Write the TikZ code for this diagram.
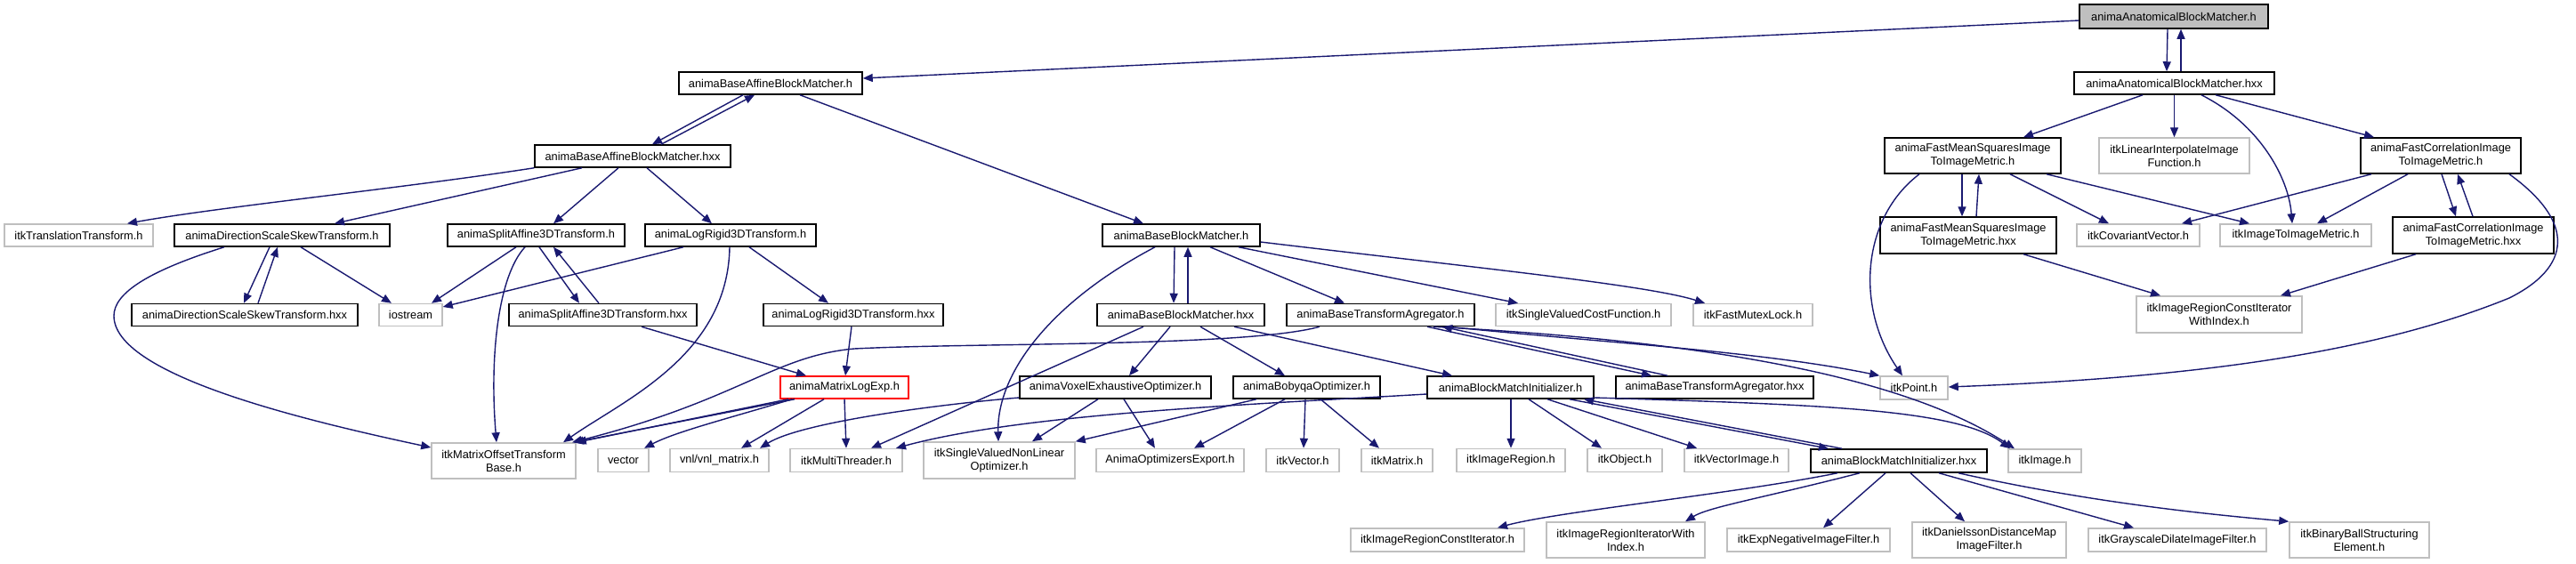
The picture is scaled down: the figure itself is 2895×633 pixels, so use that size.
\documentclass[tikz,border=0pt]{standalone}
\usepackage{fontspec}
\setmainfont{Liberation Sans}
\usetikzlibrary{arrows.meta,calc}
\definecolor{mbl}{HTML}{191970}
\definecolor{extgray}{HTML}{BFBFBF}
\begin{document}
\begin{tikzpicture}[x=1pt,y=-1pt,
  box/.style={draw, line width=1.5pt, inner sep=0pt, align=center, font=\fontsize{12.8}{15}\selectfont},
  doc/.style={box, draw=black},
  ext/.style={box, draw=extgray},
  sz/.style 2 args={minimum width=#1pt, minimum height=#2pt},
  conn/.style={draw=mbl, line width=1.4pt, -{Triangle[length=11pt,width=9pt]}}
]
\useasboundingbox (0,0) rectangle (2895,633);
% row 0
\node[doc, fill=extgray, sz={212}{27}] (A) at (2443,18.5) {animaAnatomicalBlockMatcher.h};
% row 1
\node[doc, sz={225}{25}] (Ahxx) at (2443.5,93.5) {animaAnatomicalBlockMatcher.hxx};
\node[doc, sz={206}{25}] (BAh) at (866,93.5) {animaBaseAffineBlockMatcher.h};
% row 2
\node[doc, sz={220}{25}] (BAhxx) at (711,175.5) {animaBaseAffineBlockMatcher.hxx};
\node[doc, sz={198}{40}] (FMSh) at (2217,175) {animaFastMeanSquaresImage\\ToImageMetric.h};
\node[ext, sz={169}{40}] (itkLII) at (2443.5,175) {itkLinearInterpolateImage\\Function.h};
\node[doc, sz={180}{40}] (FCh) at (2743,175) {animaFastCorrelationImage\\ToImageMetric.h};
% row 3
\node[ext, sz={167}{25}] (itkTT) at (88.5,264.5) {itkTranslationTransform.h};
\node[doc, sz={242}{25}] (DSSh) at (317,264.5) {animaDirectionScaleSkewTransform.h};
\node[doc, sz={199}{25}] (SAh) at (602.5,264.5) {animaSplitAffine3DTransform.h};
\node[doc, sz={192}{25}] (LRh) at (821,264.5) {animaLogRigid3DTransform.h};
\node[doc, sz={177}{25}] (BBh) at (1327.5,264.5) {animaBaseBlockMatcher.h};
\node[doc, sz={198}{41}] (FMShxx) at (2212,264.5) {animaFastMeanSquaresImage\\ToImageMetric.hxx};
\node[ext, sz={138}{25}] (itkCV) at (2403,264.5) {itkCovariantVector.h};
\node[ext, sz={170}{25}] (itkITIM) at (2580,264.5) {itkImageToImageMetric.h};
\node[doc, sz={181}{41}] (FChxx) at (2779.5,264.5) {animaFastCorrelationImage\\ToImageMetric.hxx};
% row 4
\node[ext, sz={186}{41}] (itkIRCIWI) at (2494,353.5) {itkImageRegionConstIterator\\WithIndex.h};
\node[doc, sz={254}{25}] (DSShxx) at (275,354) {animaDirectionScaleSkewTransform.hxx};
\node[ext, sz={71}{25}] (iostream) at (461.5,354) {iostream};
\node[doc, sz={211}{25}] (SAhxx) at (677.5,354) {animaSplitAffine3DTransform.hxx};
\node[doc, sz={202}{25}] (LRhxx) at (959,354) {animaLogRigid3DTransform.hxx};
\node[doc, sz={188}{25}] (BBhxx) at (1327,354) {animaBaseBlockMatcher.hxx};
\node[doc, sz={211}{25}] (BTAh) at (1551.5,354) {animaBaseTransformAgregator.h};
\node[ext, sz={197}{25}] (itkSVCF) at (1779.5,354) {itkSingleValuedCostFunction.h};
\node[ext, sz={134}{25}] (itkFML) at (1970,354) {itkFastMutexLock.h};
% row 5
\node[box, draw=red, sz={144}{25}] (MLE) at (949,435.5) {animaMatrixLogExp.h};
\node[doc, sz={215}{25}] (VEO) at (1253.5,435.5) {animaVoxelExhaustiveOptimizer.h};
\node[doc, sz={165}{25}] (BO) at (1468.5,435.5) {animaBobyqaOptimizer.h};
\node[doc, sz={187}{25}] (BMIh) at (1697.5,435.5) {animaBlockMatchInitializer.h};
\node[doc, sz={222}{25}] (BTAhxx) at (1927,435.5) {animaBaseTransformAgregator.hxx};
\node[ext, sz={76}{26}] (itkPoint) at (2151,436) {itkPoint.h};
% row 6
\node[ext, sz={162}{40}] (itkMOTB) at (566,518) {itkMatrixOffsetTransform\\Base.h};
\node[ext, sz={57}{26}] (vector) at (700.5,517.5) {vector};
\node[ext, sz={111}{26}] (vnl) at (808.5,517.5) {vnl/vnl\_matrix.h};
\node[ext, sz={126}{26}] (itkMT) at (951,517.5) {itkMultiThreader.h};
\node[ext, sz={170}{41}] (itkSVNLO) at (1123,517.5) {itkSingleValuedNonLinear\\Optimizer.h};
\node[ext, sz={166}{26}] (AOE) at (1315,517.5) {AnimaOptimizersExport.h};
\node[ext, sz={82}{26}] (itkVector) at (1464,517.5) {itkVector.h};
\node[ext, sz={80}{26}] (itkMatrix) at (1570,517.5) {itkMatrix.h};
\node[ext, sz={122}{26}] (itkIR) at (1698,517.5) {itkImageRegion.h};
\node[ext, sz={84}{26}] (itkObject) at (1826,517.5) {itkObject.h};
\node[ext, sz={117}{26}] (itkVI) at (1951.5,517.5) {itkVectorImage.h};
\node[doc, sz={198}{26}] (BMIhxx) at (2134,518) {animaBlockMatchInitializer.hxx};
\node[ext, sz={82}{26}] (itkImage) at (2298,518) {itkImage.h};
% row 7
\node[ext, sz={195}{26}] (itkIRCI) at (1615.5,607) {itkImageRegionConstIterator.h};
\node[ext, sz={178}{40}] (itkIRIWI) at (1827,607) {itkImageRegionIteratorWith\\Index.h};
\node[ext, sz={183}{26}] (itkENIF) at (2032.5,607) {itkExpNegativeImageFilter.h};
\node[ext, sz={173}{40}] (itkDDMIF) at (2235.5,607) {itkDanielssonDistanceMap\\ImageFilter.h};
\node[ext, sz={200}{26}] (itkGDIF) at (2447,607) {itkGrayscaleDilateImageFilter.h};
\node[ext, sz={157}{40}] (itkBBSE) at (2651.5,607) {itkBinaryBallStructuring\\Element.h};

% ---------- connectors ----------
\draw[conn] (A.west |- 0,23) -- (BAh.east |- 0,88);
\draw[conn] (A.south -| 2436,0) -- (Ahxx.north -| 2435,0);
\draw[conn] (Ahxx.north -| 2451,0) -- (A.south -| 2451,0);
\draw[conn] (Ahxx.south -| 2408,0) -- (FMSh.north -| 2274,0);
\draw[conn] (Ahxx.south -| 2443.5,0) -- (itkLII.north -| 2443.5,0);
\draw[conn] (Ahxx.south -| 2474,0) .. controls (2540,140) and (2572,200) .. (itkITIM.north -| 2576,0);
\draw[conn] (Ahxx.south -| 2490,0) -- (FCh.north -| 2668,0);

\draw[conn] (FMSh.south -| 2205,0) -- (FMShxx.north -| 2205,0);
\draw[conn] (FMShxx.north -| 2221,0) -- (FMSh.south -| 2224,0);
\draw[conn] (FMSh.south -| 2259,0) -- (itkCV.north -| 2370,0);
\draw[conn] (FMSh.south -| 2300,0) -- (itkITIM.north -| 2528,0);
\draw[conn] (FMSh.south -| 2157,0) .. controls (2092,245) and (2085,345) .. (itkPoint.north -| 2138,0);
\draw[conn] (FCh.south -| 2665,0) -- (itkCV.north -| 2452,0);
\draw[conn] (FCh.south -| 2706,0) -- (itkITIM.north -| 2604,0);
\draw[conn] (FCh.south -| 2744,0) -- (FChxx.north -| 2760,0);
\draw[conn] (FChxx.north -| 2779,0) -- (FCh.south -| 2762,0);
\draw[conn] (FCh.south -| 2820,0) .. controls (2895,250) and (2890,300) .. (2820,335) .. controls (2660,400) and (2450,425) .. (itkPoint.east |- 0,435);
\draw[conn] (FMShxx.south -| 2274,0) -- (itkIRCIWI.north -| 2428,0);
\draw[conn] (FChxx.south -| 2715,0) -- (itkIRCIWI.north -| 2563,0);

\draw[conn] (BAh.south -| 835,0) -- (BAhxx.north -| 733,0);
\draw[conn] (BAhxx.north -| 743,0) -- (BAh.south -| 848,0);
\draw[conn] (BAh.south -| 899,0) -- (BBh.north -| 1285,0);
\draw[conn] (BAhxx.south west) .. controls (450,212) and (250,232) .. (itkTT.north -| 143,0);
\draw[conn] (BAhxx.south -| 654,0) -- (DSSh.north -| 376,0);
\draw[conn] (BAhxx.south -| 695,0) -- (SAh.north -| 622,0);
\draw[conn] (BAhxx.south -| 727,0) -- (LRh.north -| 800,0);

\draw[conn] (DSSh.south -| 252,0) .. controls (165,305) and (128,330) .. (128,355) .. controls (128,420) and (330,470) .. (itkMOTB.west |- 0,503);
\draw[conn] (DSSh.south -| 303,0) -- (DSShxx.north -| 274,0);
\draw[conn] (DSShxx.north -| 290,0) -- (DSSh.south -| 312,0);
\draw[conn] (DSSh.south -| 338,0) -- (iostream.north -| 440,0);
\draw[conn] (SAh.south -| 580,0) -- (iostream.north -| 485,0);
\draw[conn] (SAh.south -| 590,0) .. controls (560,310) and (550,400) .. (itkMOTB.north -| 558,0);
\draw[conn] (SAh.south -| 606,0) -- (SAhxx.north -| 651,0);
\draw[conn] (SAhxx.north -| 673,0) -- (SAh.south -| 622,0);
\draw[conn] (LRh.south -| 768,0) -- (iostream.east |- 0,345);
\draw[conn] (LRh.south -| 820,0) .. controls (818,400) and (700,450) .. (itkMOTB.north -| 633,0);
\draw[conn] (LRh.south -| 842,0) -- (LRhxx.north -| 931,0);
\draw[conn] (SAhxx.south -| 721,0) -- (MLE.north -| 906,0);
\draw[conn] (LRhxx.south -| 957,0) -- (MLE.north -| 950,0);

\draw[conn] (MLE.south -| 893,0) -- (itkMOTB.north -| 645,0);
\draw[conn] (MLE.south -| 886,0) -- (itkMOTB.north east);
\draw[conn] (MLE.south -| 890,0) .. controls (820,470) and (760,485) .. (vector.north -| 724,0);
\draw[conn] (MLE.south -| 926,0) -- (vnl.north -| 833,0);
\draw[conn] (MLE.south -| 949,0) -- (itkMT.north -| 951,0);

\draw[conn] (BTAh.south -| 1483,0) .. controls (1400,390) and (1100,385) .. (960,392) .. controls (870,400) and (830,450) .. (itkMOTB.north -| 643,0);
\draw[conn] (BBh.south -| 1320,0) -- (BBhxx.north -| 1319,0);
\draw[conn] (BBhxx.north -| 1335,0) -- (BBh.south -| 1335,0);
\draw[conn] (BBh.south -| 1298,0) .. controls (1180,340) and (1120,420) .. (itkSVNLO.north -| 1122,0);
\draw[conn] (BBh.south -| 1360,0) -- (BTAh.north -| 1511,0);
\draw[conn] (BBh.south -| 1392,0) -- (itkSVCF.north -| 1706,0);
\draw[conn] (BBh.east |- 0,272) .. controls (1650,300) and (1850,320) .. (itkFML.north -| 1916,0);
\draw[conn] (BBhxx.south -| 1285,0) -- (itkMT.north -| 979,0);
\draw[conn] (BBhxx.south -| 1315,0) -- (VEO.north -| 1269,0);
\draw[conn] (BBhxx.south -| 1349,0) -- (BO.north -| 1444,0);
\draw[conn] (BBhxx.south -| 1387,0) -- (BMIh.north -| 1632,0);

\draw[conn] (BTAh.south -| 1604,0) -- (BTAhxx.north -| 1856,0);
\draw[conn] (BTAhxx.north -| 1874,0) -- (BTAh.south -| 1621,0);
\draw[conn] (BTAh.south -| 1627,0) .. controls (1800,385) and (1980,395) .. (itkPoint.north west);
\draw[conn] (BTAh.south -| 1611,0) .. controls (1950,385) and (2150,430) .. (itkImage.north -| 2264,0);

\draw[conn] (VEO.west |- 0,447) .. controls (1050,455) and (900,475) .. (vnl.north -| 854,0);
\draw[conn] (VEO.south -| 1234,0) -- (itkSVNLO.north -| 1160,0);
\draw[conn] (VEO.south -| 1263,0) -- (AOE.north -| 1298,0);
\draw[conn] (BO.south -| 1412,0) -- (itkSVNLO.north east);
\draw[conn] (BO.south -| 1444,0) -- (AOE.north -| 1342,0);
\draw[conn] (BO.south -| 1467,0) -- (itkVector.north -| 1465,0);
\draw[conn] (BO.south -| 1484,0) -- (itkMatrix.north -| 1550,0);

\draw[conn] (BMIh.west |- 0,443) .. controls (1400,455) and (1150,465) .. (itkMT.north -| 1007,0);
\draw[conn] (BMIh.south -| 1698,0) -- (itkIR.north -| 1698,0);
\draw[conn] (BMIh.south -| 1718,0) -- (itkObject.north -| 1800,0);
\draw[conn] (BMIh.south -| 1739,0) -- (itkVI.north -| 1907,0);
\draw[conn] (BMIh.south -| 1764,0) -- (BMIhxx.north -| 2055,0);
\draw[conn] (BMIhxx.north -| 2070,0) -- (BMIh.south -| 1780,0);
\draw[conn] (BMIh.east |- 0,447) .. controls (2050,455) and (2200,460) .. (itkImage.north -| 2259,0);

\draw[conn] (BMIhxx.south -| 2065,0) .. controls (1950,555) and (1750,575) .. (itkIRCI.north -| 1683,0);
\draw[conn] (BMIhxx.south -| 2090,0) .. controls (1980,560) and (1920,570) .. (itkIRIWI.north -| 1894,0);
\draw[conn] (BMIhxx.south -| 2119,0) -- (itkENIF.north -| 2049,0);
\draw[conn] (BMIhxx.south -| 2147,0) -- (itkDDMIF.north -| 2208,0);
\draw[conn] (BMIhxx.south -| 2179,0) -- (itkGDIF.north -| 2398,0);
\draw[conn] (BMIhxx.south -| 2201,0) .. controls (2350,565) and (2480,578) .. (itkBBSE.north west);
\end{tikzpicture}
\end{document}
